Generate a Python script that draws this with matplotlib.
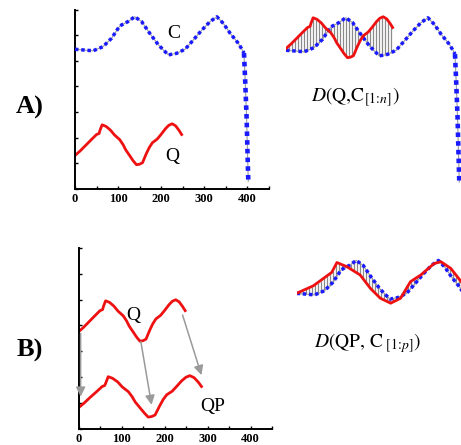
import numpy as np
import matplotlib.pyplot as plt
from matplotlib.ticker import FixedLocator

plt.rcParams['font.family'] = ['Liberation Serif', 'DejaVu Serif']
plt.rcParams['mathtext.fontset'] = 'stix'

# long candidate series C
c_x = [0, 22, 42, 65, 85, 104, 123, 139, 155, 174, 194, 217, 236, 256, 275,
       295, 314, 330, 345, 361, 380, 390, 393, 396, 399, 401, 403]
c_y = [5.45, 5.42, 5.39, 5.55, 5.88, 6.36, 6.53, 6.72, 6.53, 6.07, 5.62, 5.23,
       5.29, 5.45, 5.81, 6.20, 6.53, 6.72, 6.46, 6.07, 5.68, 5.40, 5.30, 4.12,
       2.82, 1.52, 0.30]
c_drop = 22  # index where C falls off

# query series Q
q_x = [0, 12, 25, 38, 50, 56, 58, 63, 72, 82, 92, 104, 112, 118, 127, 135,
       143, 150, 157, 166, 173, 180, 191, 200, 210, 218, 226, 234, 242, 248]
q_y = [1.30, 1.48, 1.70, 1.92, 2.12, 2.16, 2.28, 2.50, 2.44, 2.30, 2.10, 1.92,
       1.72, 1.52, 1.30, 1.10, 0.94, 0.96, 1.02, 1.38, 1.62, 1.80, 1.94, 2.12,
       2.34, 2.48, 2.54, 2.46, 2.28, 2.12]

# warped query QP (same points as Q, stretched in time)
qp_x = [0, 13, 27, 42, 55, 61, 64, 69, 79, 91, 102, 116, 125, 132, 143, 153,
        162, 170, 178, 189, 197, 205, 218, 228, 240, 250, 259, 269, 279, 286]

# QP aligned against C (lower right)
qp2_x = [0, 39, 82, 94, 117, 148, 172, 195, 219, 242, 265, 289, 320, 336, 359, 383]
qp2_y = [5.45, 5.74, 6.26, 6.64, 6.48, 6.16, 5.64, 5.26, 5.07, 5.26, 5.90, 6.16,
         6.60, 6.67, 6.41, 5.90]

# gray arrows Q -> QP (lower left)
arrow_from = [(5, 3.69), (145, 3.37), (242, 4.40)]
arrow_to = [(5, 1.25), (170, 0.93), (286, 2.08)]

tick_vals = [0, 100, 200, 300, 400]
tick_minor = [50, 150, 250, 350, 450]

W, H = 461, 445
fig = plt.figure(figsize=(W / 100, H / 100), dpi=100)


def panel(x0, y0, sx, sy, frame=True):
    """Axes whose data origin sits at pixel (x0, y0), y0 counted from top."""
    xmax, ymax = 450, 7
    ax = fig.add_axes([x0 / W, (H - y0) / H, xmax * sx / W, ymax * sy / H])
    ax.set_xlim(0, xmax)
    ax.set_ylim(0, ymax)
    ax.patch.set_visible(False)
    if not frame:
        ax.axis('off')
        return ax
    for s in ('top', 'right'):
        ax.spines[s].set_visible(False)
    for s in ('left', 'bottom'):
        ax.spines[s].set_linewidth(1.4)
    ax.xaxis.set_major_locator(FixedLocator(tick_vals))
    ax.xaxis.set_minor_locator(FixedLocator(tick_minor))
    ax.set_yticks(range(8))
    ax.set_yticklabels([])
    ax.tick_params(which='both', direction='in', length=2.5, width=1)
    ax.tick_params(axis='x', which='major', labelsize=9, pad=3)
    for t in ax.get_xticklabels():
        t.set_fontweight('bold')
    return ax


def draw_c(ax):
    ax.plot(c_x, c_y, color='#999999', lw=0.8, zorder=2)
    ax.plot(c_x[:c_drop + 1], c_y[:c_drop + 1], color='#1a1aff', lw=2.5,
            dashes=(1, 0.8), zorder=3)
    ax.plot(c_x[c_drop:], c_y[c_drop:], color='#1a1aff', lw=3.3,
            dashes=(1, 0.9), zorder=3)


def links(ax, qx, qy, step=7):
    xs = np.arange(0, qx[-1] + 1, step)
    top = np.interp(xs, qx, qy)
    bot = np.interp(xs, c_x, c_y)
    ax.vlines(xs, np.minimum(top, bot), np.maximum(top, bot),
              color='#8a8a8a', lw=0.9, zorder=1)


red = '#ee1111'
q_arr = np.array(q_y)

# A) top left
ax1 = panel(75, 188.8, 0.43, 25.6)
draw_c(ax1)
ax1.plot(q_x, q_arr, color=red, lw=2)
ax1.text(229, 6.07, 'C', fontsize=14, ha='center', va='center')
ax1.text(225, 1.25, 'Q', fontsize=14, ha='center', va='center')

# A) top right: Q laid over C
ax2 = panel(286, 189.8, 0.43, 25.6, frame=False)
draw_c(ax2)
ax2.plot(q_x, q_arr + 4.22, color=red, lw=2, zorder=4)
links(ax2, q_x, q_arr + 4.22)

# B) bottom left
ax3 = panel(78.5, 429, 0.43, 25.9)
ax3.plot(q_x, q_arr + 2.45, color=red, lw=2)
ax3.plot(qp_x, q_arr - 0.48, color=red, lw=2)
for (x0, y0), (x1, y1) in zip(arrow_from, arrow_to):
    ax3.annotate('', xy=(x1, y1), xytext=(x0, y0),
                 arrowprops=dict(arrowstyle='-|>', color='#9a9a9a', lw=1.1,
                                 mutation_scale=14, shrinkA=0, shrinkB=0))
ax3.text(128, 4.4, 'Q', fontsize=14, ha='center', va='center')
ax3.text(313, 0.86, 'QP', fontsize=14, ha='center', va='center')

# B) bottom right: QP laid over C
ax4 = panel(296.5, 434.5, 0.43, 25.9, frame=False)
draw_c(ax4)
ax4.plot(qp2_x, qp2_y, color=red, lw=2, zorder=4)
links(ax4, qp2_x, qp2_y)

fig.text(30 / W, 1 - 107 / H, 'A)', fontsize=19, fontweight='bold',
         ha='center', va='center')
fig.text(30 / W, 1 - 350 / H, 'B)', fontsize=19, fontweight='bold',
         ha='center', va='center')
fig.text(355 / W, 1 - 97 / H, r'$D(\mathrm{Q{,}C}_{[1\!:\!n]})$', fontsize=14,
         ha='center', va='center')
fig.text(368 / W, 1 - 343 / H, r'$D(\mathrm{QP{,}\ C}_{\ [1\!:\!p]})$', fontsize=14,
         ha='center', va='center')

fig.savefig('out.png', dpi=100)
